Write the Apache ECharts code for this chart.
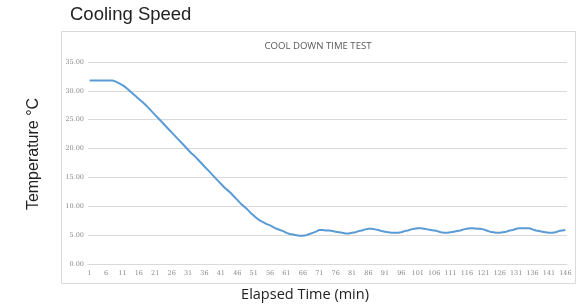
<!DOCTYPE html>
<html><head><meta charset="utf-8">
<script src="https://cdn.jsdelivr.net/npm/echarts@6/dist/echarts.min.js"></script>
<style>html,body{margin:0;padding:0;background:#fff}#c{width:581px;height:305px}</style>
</head><body><div id="c"></div>
<script>
const pageTitle = 'Cooling Speed';
const chartTitle = 'COOL DOWN TIME TEST';
const yAxisName = 'Temperature °C';
const xAxisName = 'Elapsed Time (min)';
const minutes = Array.from({length: 146}, (_, i) => String(i + 1));
const temperature = [
31.8,31.8,31.8,31.8,31.8,31.8,31.8,31.8,31.6,31.3,
31.0,30.6,30.1,29.6,29.1,28.6,28.1,27.6,27.0,26.4,
25.8,25.2,24.6,24.0,23.4,22.8,22.2,21.6,21.0,20.4,
19.8,19.2,18.7,18.1,17.5,16.9,16.3,15.7,15.1,14.5,
13.9,13.3,12.8,12.3,11.7,11.1,10.5,10.0,9.5,8.9,
8.4,7.9,7.5,7.2,6.9,6.7,6.4,6.1,5.9,5.7,
5.4,5.2,5.1,5.0,4.9,4.9,5.0,5.2,5.4,5.6,
5.9,5.9,5.8,5.8,5.7,5.6,5.5,5.4,5.3,5.3,
5.4,5.5,5.7,5.8,6.0,6.1,6.1,6.0,5.9,5.7,
5.6,5.5,5.4,5.4,5.4,5.5,5.7,5.8,6.0,6.1,
6.2,6.2,6.1,6.0,5.9,5.8,5.7,5.5,5.4,5.4,
5.5,5.6,5.7,5.8,6.0,6.1,6.2,6.2,6.1,6.1,
6.0,5.8,5.6,5.5,5.4,5.4,5.5,5.6,5.8,5.9,
6.1,6.2,6.2,6.2,6.2,6.0,5.8,5.7,5.6,5.5,
5.4,5.4,5.5,5.7,5.8,5.9
];
const chart = echarts.init(document.getElementById('c'));
chart.setOption({
  animation: false,
  graphic: [
    {type:'rect', shape:{x:61.5,y:31.5,width:514,height:252}, style:{fill:'none',stroke:'#d9d9d9',lineWidth:1}, z:-1},
    {type:'text', left:70, top:5, style:{text:pageTitle, font:'18.5px "Liberation Sans", Arial', fill:'#222'}},
    {type:'text', x:318, y:46, style:{text:chartTitle, font:'9.6px "Open Sans", sans-serif', fill:'#595959', align:'center', verticalAlign:'middle'}},
    {type:'text', x:34, y:154, rotation:Math.PI/2, style:{text:yAxisName, font:'16px "Liberation Sans", Arial', fill:'#222', align:'center', verticalAlign:'middle'}},
    {type:'text', x:305, y:295, style:{text:xAxisName, font:'14.5px "Open Sans", sans-serif', fill:'#222', align:'center', verticalAlign:'middle'}}
  ],
  grid: {left: 88, right: 14, top: 62, bottom: 41},
  xAxis: {
    type: 'category', data: minutes, boundaryGap: true,
    axisLine: {lineStyle: {color: '#d9d9d9'}},
    axisTick: {show: false},
    axisLabel: {interval: 4, color: '#888', fontSize: 6.5, fontFamily: '"DejaVu Serif", serif', margin: 6}
  },
  yAxis: {
    type: 'value', min: 0, max: 35, interval: 5,
    axisLine: {show: false}, axisTick: {show: false},
    splitLine: {lineStyle: {color: '#d9d9d9'}},
    axisLabel: {formatter: v => v.toFixed(2), color: '#888', fontSize: 6.5, fontFamily: '"DejaVu Serif", serif', margin: 4}
  },
  series: [{
    type: 'line', data: temperature, showSymbol: false, smooth: false,
    lineStyle: {color: '#5b9bd5', width: 2}
  }]
});
</script></body></html>
